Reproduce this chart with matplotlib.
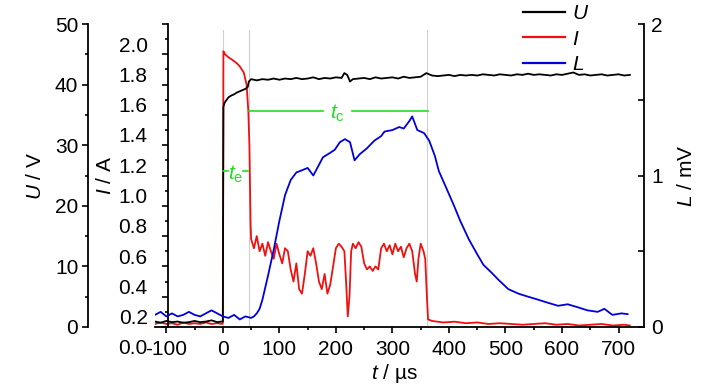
import matplotlib
matplotlib.use("Agg")
import matplotlib.pyplot as plt
import matplotlib.transforms as mtransforms
from matplotlib.ticker import MultipleLocator, FixedLocator

plt.rcParams['font.family'] = ['Liberation Sans Narrow', 'Liberation Sans', 'DejaVu Sans']
plt.rcParams['mathtext.fontset'] = 'custom'
plt.rcParams['mathtext.rm'] = 'Liberation Sans'
plt.rcParams['mathtext.it'] = 'Liberation Sans:italic'
plt.rcParams['axes.unicode_minus'] = False

# voltage U (V)
u_t = [-120, -110, -100, -90, -80, -70, -60, -50, -40, -30, -20, -10, -2, 0, 1, 3, 6, 10, 15, 20,
       25, 30, 35, 40, 44, 46, 50, 60, 70, 80, 90, 100, 110, 120, 130, 140, 150, 160, 170, 180,
       190, 200, 210, 215, 220, 225, 230, 240, 250, 260, 270, 280, 290, 300, 310, 320, 330, 340,
       350, 360, 370, 380, 390, 400, 410, 420, 430, 440, 450, 460, 470, 480, 490, 500, 510, 520,
       530, 540, 550, 560, 570, 580, 590, 600, 610, 620, 630, 640, 650, 660, 670, 680, 690, 700,
       710, 720]
u_v = [0.9, 0.7, 1.0, 0.8, 0.9, 0.7, 0.8, 1.0, 0.8, 0.9, 1.1, 0.8, 0.9, 0.9, 36.3, 37.0, 37.4, 37.9,
       38.2, 38.4, 38.7, 38.9, 39.1, 39.3, 39.6, 40.5, 40.9, 40.7, 40.9, 40.8, 41.0, 40.8, 41.0, 40.9,
       41.1, 40.9, 41.0, 41.2, 40.9, 41.1, 41.0, 41.2, 41.1, 41.9, 41.6, 40.5, 40.9, 41.0, 41.1, 40.9,
       41.2, 41.0, 41.1, 41.2, 41.0, 41.3, 41.1, 41.2, 41.3, 41.9, 41.5, 41.4, 41.5, 41.6, 41.4, 41.6,
       41.5, 41.6, 41.5, 41.7, 41.6, 41.5, 41.7, 41.6, 41.5, 41.7, 41.6, 41.8, 41.6, 41.7, 41.6, 41.5,
       41.7, 41.6, 41.8, 42.0, 41.6, 41.7, 41.5, 41.6, 41.7, 41.5, 41.6, 41.7, 41.5, 41.6]

# current I (A)
i_t = [-120, -110, -100, -90, -80, -70, -60, -50, -40, -30, -20, -10, -1, 0, 1, 4, 10, 18, 25, 30,
       37, 42, 45, 47, 48, 49, 50, 55, 60, 65, 70, 75, 80, 85, 90, 95, 100, 105, 110, 115, 120, 125,
       130, 135, 140, 145, 150, 155, 160, 165, 170, 175, 180, 185, 190, 195, 200, 205, 210, 215, 218,
       221, 224, 227, 230, 235, 240, 245, 250, 255, 260, 265, 270, 275, 280, 285, 290, 295, 300, 305,
       310, 315, 320, 325, 330, 335, 340, 343, 346, 350, 355, 358, 361, 363, 370, 390, 410, 430, 450,
       470, 490, 510, 530, 550, 570, 590, 610, 630, 650, 670, 690, 710, 720]
i_v = [0.02, 0.03, 0.02, 0.025, 0.015, 0.03, 0.02, 0.025, 0.02, 0.03, 0.02, 0.025, 0.02, 0.03, 1.82,
       1.80, 1.78, 1.76, 1.74, 1.72, 1.68, 1.60, 1.43, 1.20, 0.95, 0.70, 0.58, 0.52, 0.60, 0.50, 0.55,
       0.47, 0.56, 0.50, 0.45, 0.55, 0.48, 0.42, 0.52, 0.50, 0.38, 0.30, 0.42, 0.25, 0.22, 0.35, 0.50,
       0.47, 0.52, 0.42, 0.30, 0.25, 0.35, 0.22, 0.28, 0.40, 0.52, 0.55, 0.53, 0.50, 0.30, 0.07, 0.20,
       0.50, 0.55, 0.52, 0.56, 0.53, 0.42, 0.38, 0.40, 0.37, 0.40, 0.38, 0.52, 0.55, 0.50, 0.54, 0.48,
       0.55, 0.50, 0.53, 0.46, 0.52, 0.55, 0.50, 0.35, 0.30, 0.45, 0.55, 0.50, 0.45, 0.20, 0.05, 0.04,
       0.03, 0.035, 0.025, 0.03, 0.02, 0.025, 0.02, 0.015, 0.02, 0.025, 0.015, 0.02, 0.01, 0.015, 0.02,
       0.01, 0.015, 0.01]

# luminescence L (mV)
l_t = [-120, -110, -100, -90, -80, -70, -60, -50, -40, -30, -20, -10, 0, 10, 20, 30, 40, 50, 55,
       60, 65, 70, 80, 90, 100, 110, 120, 130, 137, 150, 160, 170, 177, 190, 198, 207, 216, 225, 233,
       242, 255, 268, 280, 286, 300, 312, 320, 330, 335, 344, 356, 365, 375, 382, 395, 409, 420, 435,
       450, 461, 475, 488, 505, 523, 540, 558, 575, 593, 610, 628, 645, 663, 675, 689, 705, 716]
l_v = [0.08, 0.10, 0.07, 0.09, 0.07, 0.08, 0.10, 0.08, 0.07, 0.09, 0.11, 0.09, 0.07, 0.06, 0.08,
       0.05, 0.07, 0.06, 0.07, 0.09, 0.12, 0.18, 0.34, 0.51, 0.70, 0.87, 0.97, 1.02, 1.03, 1.05, 1.00,
       1.07, 1.12, 1.15, 1.17, 1.22, 1.24, 1.22, 1.10, 1.14, 1.18, 1.23, 1.26, 1.29, 1.30, 1.32, 1.31,
       1.36, 1.39, 1.30, 1.28, 1.23, 1.13, 1.03, 0.92, 0.80, 0.70, 0.58, 0.48, 0.41, 0.36, 0.31, 0.25,
       0.22, 0.20, 0.18, 0.16, 0.14, 0.15, 0.13, 0.11, 0.10, 0.12, 0.08, 0.09, 0.085]

i_ticks = [0.0, 0.2, 0.4, 0.6, 0.8, 1.0, 1.2, 1.4, 1.6, 1.8, 2.0]
event_t = [0, 46, 362]

green = '#22dd22'
fig = plt.figure(figsize=(7.27, 3.9), dpi=100)
ax = fig.add_axes([155 / 727, 63 / 390, 489 / 727, 303 / 390])
ax_u = ax.twinx()
ax_l = ax.twinx()

for a in (ax, ax_u, ax_l):
    for s in a.spines.values():
        s.set_visible(False)
        s.set_linewidth(1.3)

# current axis (main)
ax.spines['left'].set_visible(True)
ax.spines['left'].set_position(('axes', 0.0276))
ax.spines['bottom'].set_visible(True)
ax.set_xlim(-120, 745)
ax.set_ylim(0, 2.0)
ax.xaxis.set_major_locator(MultipleLocator(100))
ax.xaxis.set_minor_locator(MultipleLocator(50))
ax.yaxis.set_major_locator(FixedLocator(i_ticks))
ax.yaxis.set_minor_locator(MultipleLocator(0.1))
ax.set_yticklabels([f'{v:.1f}' for v in i_ticks])
ax.tick_params(axis='x', which='major', direction='out', length=4.5, width=1.2, labelsize=15, pad=5)
ax.tick_params(axis='x', which='minor', direction='out', length=2.5, width=1.2)
ax.tick_params(axis='y', which='major', direction='out', length=4, width=1.2, labelsize=15, pad=11)
ax.tick_params(axis='y', which='minor', direction='out', length=2.5, width=1.2)
shift = mtransforms.ScaledTranslation(0, -0.2, fig.dpi_scale_trans)
for lab in ax.get_yticklabels():
    lab.set_transform(lab.get_transform() + shift)
ax.set_ylabel('$I$ / A', fontsize=15)
ax.yaxis.set_label_coords(-0.082, 0.5)
ax.set_xlabel('$t$ / µs', fontsize=15)
ax.xaxis.set_label_coords(0.49, -0.115)

# voltage axis (offset left)
ax_u.spines['left'].set_visible(True)
ax_u.spines['left'].set_position(('axes', -67 / 489))
ax_u.yaxis.set_label_position('left')
ax_u.yaxis.set_ticks_position('left')
ax_u.set_ylim(0, 50)
ax_u.yaxis.set_major_locator(MultipleLocator(10))
ax_u.yaxis.set_minor_locator(MultipleLocator(5))
ax_u.tick_params(axis='y', which='major', direction='out', length=4, width=1.2, labelsize=15, pad=3)
ax_u.tick_params(axis='y', which='minor', direction='out', length=2.5, width=1.2)
ax_u.set_ylabel('$U$ / V', fontsize=15)
ax_u.yaxis.set_label_coords(-0.225, 0.5)

# light axis (right)
ax_l.spines['right'].set_visible(True)
ax_l.set_ylim(0, 2)
ax_l.yaxis.set_major_locator(MultipleLocator(1))
ax_l.yaxis.set_minor_locator(MultipleLocator(0.5))
ax_l.tick_params(axis='y', which='major', direction='in', length=4.5, width=1.2, labelsize=15, pad=5)
ax_l.tick_params(axis='y', which='minor', direction='in', length=4.5, width=1.2)
ax_l.set_ylabel('$L$ / mV', fontsize=15)
ax_l.yaxis.set_label_coords(1.067, 0.5)

for t in event_t:
    ax.axvline(t, ymin=0, ymax=0.98, color='#d0d0d0', lw=0.8, zorder=0)

l_i, = ax.plot(i_t, i_v, color='#f01010', lw=1.3, label='I')
l_u, = ax_u.plot(u_t, u_v, color='black', lw=1.3, label='U')
l_lum, = ax_l.plot(l_t, l_v, color='#0000dd', lw=1.3, label='L')

# characteristic times
trans = mtransforms.blended_transform_factory(ax_l.transData, ax_l.transAxes)
ax_l.plot([46, 177], [0.713, 0.713], color=green, lw=1.2, transform=trans)
ax_l.plot([228, 363], [0.713, 0.713], color=green, lw=1.2, transform=trans)
ax_l.text(202, 0.705, '$t_\\mathrm{c}$', color=green, fontsize=15, ha='center', va='center', transform=trans)
ax_l.plot([0, 9], [0.515, 0.515], color=green, lw=1.2, transform=trans)
ax_l.plot([35, 45], [0.515, 0.515], color=green, lw=1.2, transform=trans)
ax_l.text(23, 0.505, '$t_\\mathrm{e}$', color=green, fontsize=15, ha='center', va='center', transform=trans)

leg = fig.legend([l_u, l_i, l_lum], ['U', 'I', 'L'], loc='upper left',
                 bbox_to_anchor=(523 / 727, 0.99), frameon=False, borderpad=0, borderaxespad=0,
                 handlelength=2.0, handletextpad=0.35, labelspacing=0.32,
                 prop={'size': 15, 'style': 'italic'})
for h in leg.get_lines():
    h.set_linewidth(1.6)

fig.savefig('out.png', dpi=100)
